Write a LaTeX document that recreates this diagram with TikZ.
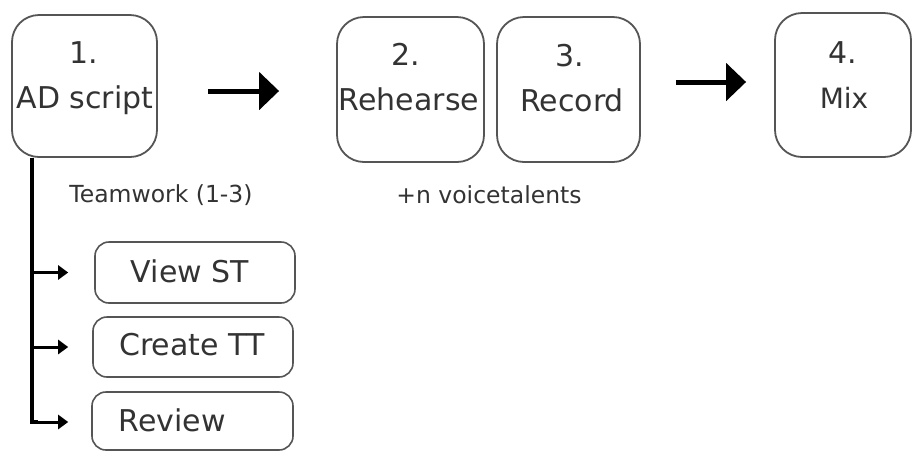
\documentclass[tikz,border=0pt]{standalone}
\usepackage{fontspec}
\setmainfont{DejaVu Sans}
\usetikzlibrary{arrows.meta,calc}
\definecolor{ink}{HTML}{333333}
\definecolor{frame}{HTML}{555555}
\begin{document}
\begin{tikzpicture}[x=1pt,y=-1pt,
  stage/.style={draw=frame, line width=1.8pt, rounded corners=27pt, inner sep=0pt},
  task/.style={draw=frame, line width=1.6pt, rounded corners=14pt, inner sep=0pt},
  word/.style={text=ink, inner sep=0pt, anchor=base, font=\fontsize{30}{36}\selectfont},
  note/.style={text=ink, inner sep=0pt, anchor=base, font=\fontsize{23.5}{28}\selectfont},
  bigarrow/.style={line width=5pt, -{Triangle[length=20pt,width=37pt]}},
  trunkline/.style={line width=4pt},
  smallarrow/.style={line width=3pt, -{Triangle[length=10pt,width=14pt]}}
]
\useasboundingbox (0,0) rectangle (912,451);

% main stages
\node[stage, minimum width=145pt, minimum height=142pt] (box1) at (84.5,86) {};
\node[stage, minimum width=147pt, minimum height=145pt] (box2) at (410.5,89.5) {};
\node[stage, minimum width=143pt, minimum height=145pt] (box3) at (568.5,89.5) {};
\node[stage, minimum width=136pt, minimum height=144pt] (box4) at (843,85) {};

\node[word] (n1) at (84,63) {1.};
\node[word] (l1) at (85,108) {AD script};
\node[word] (n2) at (406,65) {2.};
\node[word] (l2) at (409,110) {Rehearse};
\node[word] (n3) at (570,66) {3.};
\node[word] (l3) at (572,111) {Record};
\node[word] (n4) at (843,63) {4.};
\node[word, font=\fontsize{28}{34}\selectfont] (l4) at (844,108) {Mix};

\node[note] (team) at (161,202) {Teamwork (1-3)};
\node[note] (voice) at (489,203) {+n voicetalents};

% sub tasks of step 1
\node[task, minimum width=200pt, minimum height=61pt] (view) at (195,272.5) {};
\node[task, minimum width=200pt, minimum height=60pt] (create) at (193,347) {};
\node[task, minimum width=201pt, minimum height=58pt] (review) at (192.5,421) {};

\node[word] (tv) at (190,282) {View ST};
\node[word] (tc) at (192,355) {Create TT};
\node[word] (tr) at (172,431) {Review};

% flow arrows between stages
\draw[bigarrow, shorten <=50pt, shorten >=57pt] (box1.east |- 0,91) -- (box2.west |- 0,91);
\draw[bigarrow, shorten <=35pt, shorten >=28pt] (box3.east |- 0,82) -- (box4.west |- 0,82);

% branch from step 1 down to its tasks
\coordinate (trunk) at ($(box1.south west)+(21,0)$);
\draw[trunkline] (trunk) -- (trunk |- 0,422) -- ++(6,0);
\draw[smallarrow, shorten >=26pt] (trunk |- view.west) -- (view.west);
\draw[smallarrow, shorten >=24pt] (trunk |- create.west) -- (create.west);
\draw[smallarrow, shorten >=23pt] (trunk |- 0,422) -- (review.west |- 0,422);
\end{tikzpicture}
\end{document}
